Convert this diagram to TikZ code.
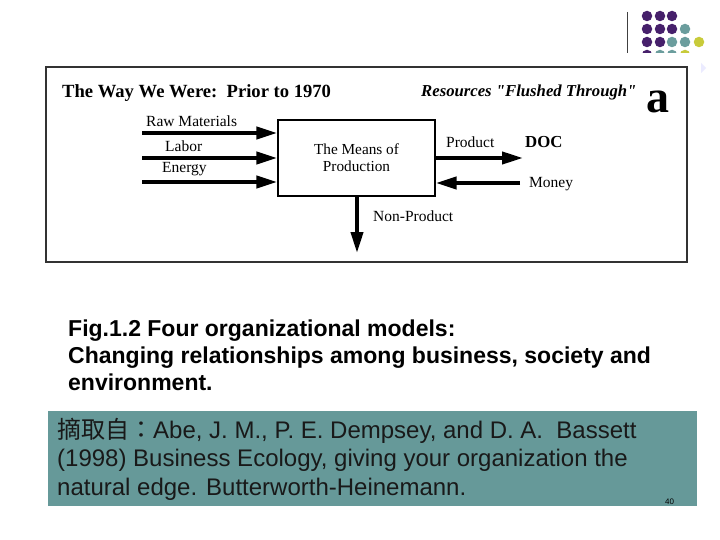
\documentclass[tikz,border=0pt]{standalone}
\usepackage{fontspec}
\setmainfont{Liberation Serif}
\setsansfont{Liberation Sans}
\newfontfamily\cjkfont{Noto Sans CJK TC}
\newfontfamily\plainserif{Liberation Serif}[Ligatures=TeXOff]
\usetikzlibrary{arrows.meta,positioning}
\definecolor{slidepurple}{HTML}{46206B}
\definecolor{slideteal}{HTML}{6B9D9D}
\definecolor{slideyellow}{HTML}{C8CB3A}
\definecolor{notebg}{HTML}{669999}
\tikzset{slide/.style={
  x=1pt,y=-1pt,
  line join=miter
},
  flow/.style={line width=4pt,-{Triangle[length=21pt,width=12pt]}},
  flowlbl/.style={anchor=base west,inner sep=0pt,font=\fontsize{15.5}{17}\selectfont},
  dot/.style={circle,inner sep=0pt,minimum size=10.5pt}
}

\begin{document}
\begin{tikzpicture}[slide]
  \useasboundingbox[fill=white] (0,0) rectangle (720,540);
  % slide ornament
  \draw[line width=1pt,black!75] (627,12)--(627,53);
  \foreach \c/\x in {slidepurple/647,slidepurple/660,slidepurple/672}
    \node[dot,fill=\c] at (\x,16) {};
  \foreach \c/\x in {slidepurple/647,slidepurple/660,slidepurple/672,slideteal/685}
    \node[dot,fill=\c] at (\x,29) {};
  \foreach \c/\x in {slidepurple/647,slidepurple/660,slideteal/672,slideteal/685,slideyellow/699}
    \node[dot,fill=\c] at (\x,42) {};
  \foreach \c/\x in {slidepurple/647,slideteal/660,slideteal/672,slideyellow/685}
    \node[dot,fill=\c] at (\x,55) {};
  \fill[white] (40,53) rectangle (698,268);
  \fill[blue!8] (701,63)--(706,68)--(701,73)--cycle;
  % scanned figure
  \draw[line width=1.3pt,black!80] (46,67) rectangle (687,262);
  \node[anchor=base west,inner sep=0pt,font=\fontsize{18.6}{20}\selectfont\bfseries] (title)
    at (62,98) {The Way We Were:\ \ Prior to 1970};
  \node[anchor=base west,inner sep=0pt,font=\plainserif\fontsize{16.7}{18}\selectfont\bfseries\itshape] (flushed)
    at (421,97) {Resources "Flushed Through"};
  \node[anchor=base west,inner sep=0pt,font=\fontsize{46}{46}\selectfont\bfseries] (panel)
    at (646,113) {a};
  \node[draw,line width=1.3pt,minimum width=157pt,minimum height=76pt,align=center,
    font=\fontsize{15.3}{17}\selectfont] (means) at (356.5,158) {The Means of\\Production};
  \coordinate (rawL) at (142,133);
  \coordinate (laborL) at (142,158);
  \coordinate (energyL) at (142,182);
  \coordinate (doc) at (523,158);
  \coordinate (moneyR) at (520,183);
  \coordinate (waste) at (357,253);
  \draw[flow] (rawL) -- (rawL -| means.west);
  \draw[flow] (laborL) -- (laborL -| means.west);
  \draw[flow] (energyL) -- (energyL -| means.west);
  \draw[flow] (doc -| means.east) -- (doc);
  \draw[flow] (moneyR) -- (moneyR -| means.east);
  \draw[flow] (waste |- means.south) -- (waste);
  \node[flowlbl] (raw) at (146,127) {Raw Materials};
  \node[flowlbl] (labor) at (165,152) {Labor};
  \node[flowlbl] (energy) at (162,173) {Energy};
  \node[flowlbl] (product) at (446,148) {Product};
  \node[flowlbl,font=\fontsize{16.8}{18}\selectfont\bfseries] (doclbl) at (525,148) {DOC};
  \node[flowlbl] (money) at (529,188) {Money};
  \node[flowlbl] (nonproduct) at (373,222) {Non-Product};
  % caption
  \node[anchor=base west,inner sep=0pt,align=left,font=\sffamily\bfseries\fontsize{23}{27}\selectfont] (caption)
    at (68,390) {Fig.1.2 Four organizational models:\\Changing relationships among business, society and\\environment.};
  % source note
  \fill[notebg] (48,411) rectangle (697,506);
  \node[anchor=base west,inner sep=0pt,align=left,text=black!90,font=\sffamily\fontsize{24}{28.5}\selectfont] (source)
    at (57,495) {{\cjkfont 摘取自：}Abe, J. M., P. E. Dempsey, and D. A.\ \ Bassett\\(1998) Business Ecology, giving your organization the\\natural edge. Butterworth-Heinemann.};
  \node[anchor=base west,inner sep=0pt,font=\sffamily\fontsize{8}{9}\selectfont] (page) at (665,504) {40};
\end{tikzpicture}
\end{document}
